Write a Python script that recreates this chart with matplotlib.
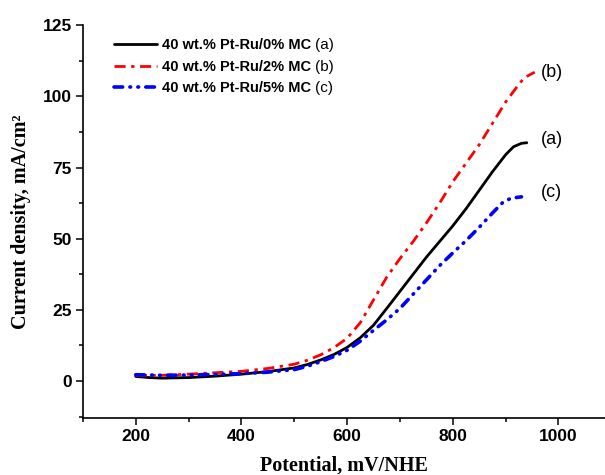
import numpy as np
import matplotlib
matplotlib.use("Agg")
from matplotlib import pyplot as plt
from matplotlib.ticker import MultipleLocator

# potential (mV/NHE) and current density (mA/cm2)
pot_a = [200, 225, 250, 300, 350, 400, 450, 500, 525, 550, 575, 600, 625, 650, 675, 700, 725, 750,
         775, 800, 825, 850, 875, 900, 915, 930, 940]
cur_a = [1.6, 1.2, 1.0, 1.2, 1.7, 2.4, 3.3, 4.6, 5.8, 7.4, 9.3, 11.8, 15.2, 19.6, 25.5, 31.5, 37.5, 43.5,
         49.0, 54.5, 60.5, 67.0, 73.5, 79.5, 82.3, 83.5, 83.7]

pot_b = [200, 250, 300, 350, 400, 450, 500, 525, 550, 575, 600, 625, 650, 675, 700, 725, 750, 775,
         800, 825, 850, 875, 900, 920, 935, 955]
cur_b = [2.0, 2.0, 2.4, 2.9, 3.4, 4.4, 5.9, 7.3, 9.2, 11.7, 15.0, 20.5, 28.5, 36.5, 43.0, 49.0, 55.5, 62.5,
         70.0, 76.5, 83.0, 90.5, 98.0, 103.0, 106.5, 108.5]

pot_c = [200, 250, 300, 350, 400, 450, 500, 525, 550, 575, 600, 625, 650, 675, 700, 725, 750, 775,
         800, 825, 850, 875, 895, 910, 930]
cur_c = [2.2, 2.0, 2.1, 2.3, 2.6, 3.1, 4.0, 5.2, 6.8, 8.6, 10.8, 14.0, 17.8, 21.5, 25.5, 30.5, 35.5, 40.5,
         45.0, 49.3, 54.0, 59.0, 62.8, 64.2, 64.7]

labels = ["40 wt.% Pt-Ru/0% MC", "40 wt.% Pt-Ru/2% MC", "40 wt.% Pt-Ru/5% MC"]
tags = ["(a)", "(b)", "(c)"]

plt.rcParams["font.family"] = ["Liberation Sans", "DejaVu Sans"]

fig = plt.figure(figsize=(6.05, 4.75), dpi=100)
ax = fig.add_axes([0.137, 0.12, 0.863, 0.827])

la, = ax.plot(pot_a, cur_a, color="black", lw=2.0, solid_capstyle="round", solid_joinstyle="round")
lb, = ax.plot(pot_b, cur_b, color="red", lw=2.0, linestyle=(0, (4, 2, 1.2, 2)))
lc, = ax.plot(pot_c, cur_c, color="blue", lw=2.6, linestyle=(0, (2.4, 2.0, 0.2, 2.0, 0.2, 2.0)),
              dash_capstyle="round")

ax.set_xlim(100, 1088)
ax.set_ylim(-13, 125)
ax.xaxis.set_major_locator(MultipleLocator(200))
ax.xaxis.set_minor_locator(MultipleLocator(100))
ax.yaxis.set_major_locator(MultipleLocator(25))
ax.yaxis.set_minor_locator(MultipleLocator(12.5))
ax.spines["top"].set_visible(False)
ax.spines["right"].set_visible(False)
ax.spines["left"].set_linewidth(1.2)
ax.spines["bottom"].set_linewidth(1.2)
ax.tick_params(which="major", length=5, width=1.1, labelsize=12.5, pad=3)
ax.tick_params(which="minor", length=3, width=1.1)
for t in ax.get_xticklabels() + ax.get_yticklabels():
    t.set_fontweight("bold")

ax.set_xlabel("Potential, mV/NHE", family="Liberation Serif", fontweight="bold", fontsize=14.5, labelpad=8)
ax.set_ylabel("Current density, mA/cm\u00b2", family="Liberation Serif", fontweight="bold",
              fontsize=14.5, labelpad=8)

leg = ax.legend([la, lb, lc], labels, loc="upper left", bbox_to_anchor=(0.045, 0.985), frameon=False,
                borderpad=0, handlelength=3.0, handletextpad=0.3, labelspacing=0.5,
                prop={"family": "Liberation Sans", "weight": "bold", "size": 10.5})

# regular-weight tags after each legend entry
fig.canvas.draw()
inv = fig.transFigure.inverted()
for txt, tag in zip(leg.get_texts(), tags):
    bb = txt.get_window_extent()
    x0, y0 = inv.transform((bb.x1 + 4, (bb.y0 + bb.y1) / 2))
    fig.text(x0, y0, tag, fontsize=11, va="center", ha="left")

# tags at the end of the curves
ax.text(967, 108.5, "(b)", fontsize=13, va="center")
ax.text(967, 85.0, "(a)", fontsize=13, va="center")
ax.text(967, 66.2, "(c)", fontsize=13, va="center")

fig.savefig("out.png", dpi=100)
